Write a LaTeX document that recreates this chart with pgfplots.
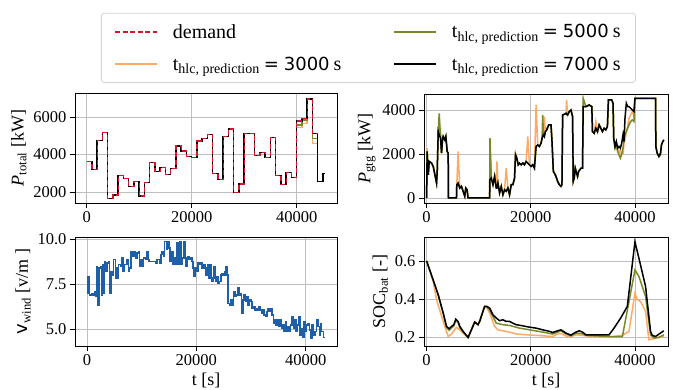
\documentclass[border=0pt]{standalone}
\usepackage{fontspec}
\setmainfont{Liberation Serif}
\newfontfamily\dejavu{DejaVu Sans}
\usepackage{pgfplots}
\usepackage{pgfplotstable}
\pgfplotsset{compat=1.18}

\definecolor{cdem}{RGB}{214,20,40}
\definecolor{cthree}{RGB}{253,170,100}
\definecolor{cfive}{RGB}{118,138,40}
\definecolor{cwind}{RGB}{30,95,170}
\definecolor{cgrid}{RGB}{190,190,190}
\definecolor{cframe}{RGB}{210,210,210}

\pgfplotstableread{
t d
0 3618
1000 3209
2000 4738
3000 5165
4000 1662
5000 1840
6000 2871
7000 2730
8000 2285
9000 2550
10000 1787
11000 2500
12000 3565
13000 3085
14000 3298
15000 2942
16000 3262
17000 4454
18000 4187
19000 3885
20000 3831
21000 4720
22000 4862
23000 5076
24000 2996
25000 2676
26000 4951
27000 5360
28000 1982
29000 2427
30000 5129
31000 5129
32000 3938
33000 4098
34000 3831
35000 4898
36000 2871
37000 2409
38000 3031
39000 2765
40000 5787
41000 5929
42000 6960
43000 5129
44000 5129
}\demand

\pgfplotstableread{
t o g b
0 3618 3618 3618
1000 3209 3209 3209
2000 4738 4738 4738
3000 5165 5165 5165
4000 1662 1662 1662
5000 1840 1840 1840
6000 2871 2871 2871
7000 2730 2730 2730
8000 2285 2285 2285
9000 2550 2550 2550
10000 1787 1787 1787
11000 2500 2500 2500
12000 3565 3565 3565
13000 3085 3085 3085
14000 3298 3298 3298
15000 2942 2942 2942
16000 3262 3262 3262
17000 4454 4454 4454
18000 4187 4187 4187
19000 3885 3885 3885
20000 3831 3831 3831
21000 4720 4720 4720
22000 4862 4862 4862
23000 5076 5076 5076
24000 2996 2996 2996
25000 2676 2676 2676
26000 4951 4951 4951
27000 5360 5360 5360
28000 1982 1982 1982
29000 2427 2427 2427
30000 5129 5129 5129
31000 5129 5129 5129
32000 3938 3938 3938
33000 4098 4098 4098
34000 3831 3831 3831
35000 4898 4898 4898
36000 2871 2871 2871
37000 2409 2409 2409
38000 3031 3031 3031
39000 2765 2765 2765
40000 5431 5574 5787
41000 5663 5840 5929
42000 6960 6960 6960
43000 4596 4862 5129
44000 2551 2551 2551
45000 2996 2996 2996
45400 2996 2996 2996
}\ptotal

\pgfplotstableread{
t o g b
0 0 0 0
100 2265 2114 2114
319 1057 1057 1057
510 1661 1661 1661
956 1586 1586 1586
1274 1435 1435 1435
1593 1057 1057 1057
1911 680 680 680
2038 1208 1208 1208
2230 3020 3020 3020
2421 2869 3850 2869
2675 3096 2718 2718
2867 2039 2039 2039
3058 2643 2643 2643
3185 2794 2794 2794
3504 2643 2643 2643
3695 2794 2794 2794
3949 2114 2114 2114
4141 2039 2039 2039
4204 0 0 0
5733 0 0 0
5797 604 604 604
6052 2114 680 680
6370 453 453 453
6689 529 529 529
7007 302 302 302
7326 76 76 76
7517 453 453 453
7771 378 378 378
7963 0 0 0
12103 0 0 0
12167 2416 2718 830
12422 906 906 906
12740 604 604 604
13059 982 982 982
13377 453 453 453
13504 1661 453 453
13696 680 680 680
14014 227 227 227
14333 529 529 529
14651 151 151 151
14970 378 378 378
15288 1359 302 302
15607 453 453 453
15925 151 151 151
16244 604 604 604
16562 604 604 604
16881 906 906 906
17072 2039 1963 1963
17326 1812 1812 1812
17581 1510 1510 1510
17836 1586 1586 1586
18155 1510 1510 1510
18473 1586 1586 1586
18792 1510 1510 1510
19110 1661 1661 1661
19429 2794 1586 1586
19747 1510 1510 1510
20066 1435 1435 1435
20384 1510 1510 1510
20703 1359 1359 1359
21021 4228 2341 2341
21340 2416 2416 2416
21658 2341 2341 2341
21977 2492 2492 2492
22168 2718 2718 2718
22295 2800 3775 2800
22422 2869 2869 2869
22614 3700 2794 2794
22805 3020 3020 3020
23059 3096 3096 3096
23442 3322 3322 3322
23888 3322 3322 3322
24079 2567 2567 2567
24333 1208 1208 1208
24525 1133 1133 1133
24843 982 982 982
25162 755 755 755
25480 604 604 604
25799 529 529 529
25990 604 604 604
26117 3775 3775 3775
26436 3805 3805 3805
26754 3851 3851 3851
26881 4455 3800 3800
27073 3775 3775 3775
27391 3926 3926 3926
27710 4002 4002 4002
28028 3700 3700 3700
28155 755 755 755
28347 906 906 906
28538 1359 1359 1359
28792 1133 1133 1133
28984 982 982 982
29175 1208 1208 1208
29429 1284 1284 1284
29684 1359 1359 1359
29939 1359 1359 1359
30066 4153 4530 4153
30576 4153 4153 4153
31213 4228 4228 4228
31722 4153 4153 4153
31850 3020 3020 3020
32169 2945 2945 2945
32487 3473 3171 3171
32806 3020 3020 3020
33124 3322 3322 3322
33443 3171 3171 3171
33761 3020 3020 3020
34080 3171 3171 3171
34398 3096 3096 3096
34717 3247 3247 3247
34908 4455 4455 4455
35545 4455 4455 4455
35799 4304 4304 4304
35927 2718 2718 2718
36181 2340 2265 2341
36436 2265 2416 2567
36691 2190 2114 2265
36946 2039 1963 2341
37201 2190 1812 2265
37456 1950 2000 2492
37710 2000 2265 2869
37902 2492 2718 2567
38093 2650 2869 3624
38347 3000 3020 4304
38602 3250 3171 4153
38857 3624 3322 4153
39176 3775 3473 4077
39494 3926 3549 4002
39813 3700 3473 3926
40004 4530 4530 4530
43953 4530 4530 4530
44017 2341 2341 2341
44272 2039 2039 2039
44590 1888 1888 1888
44909 2039 1950 2039
45100 2416 2416 2416
45354 2567 2567 2567
45546 2643 2643 2643
}\pgtg

\pgfplotstableread{
t v
0 7.92
122 6.99
305 7.92
487 6.90
792 6.99
1096 6.86
1340 7.08
1523 6.80
1705 8.48
1949 6.34
2192 8.38
2436 8.48
2619 6.90
2801 8.57
3045 6.99
3228 8.72
3410 8.20
3654 8.66
3959 8.72
4141 6.99
4385 8.20
4568 8.01
4872 8.85
5177 7.83
5359 8.38
5603 7.83
5786 8.57
6090 8.48
6273 8.94
6577 8.20
6821 8.57
7308 8.85
7613 8.20
7795 8.38
8039 9.31
8404 9.03
8648 9.31
8891 8.94
9135 9.22
9440 9.31
9622 8.48
9866 8.85
10109 8.48
10353 8.94
10658 8.85
10840 9.31
11145 8.85
11327 8.76
11876 8.76
12485 8.66
12789 8.85
13276 8.66
13520 9.13
13703 9.31
14007 9.03
14190 9.87
14494 9.41
14738 9.87
14981 9.50
15225 8.76
15530 9.31
15712 8.57
15956 8.94
16199 8.57
16443 9.78
16748 8.57
16930 9.87
17174 8.57
17417 8.94
17661 9.87
17905 8.94
18148 8.48
18392 9.03
18635 8.85
18879 8.94
19184 8.76
19366 8.38
19610 7.92
19853 8.38
20097 8.20
20341 8.66
20584 8.57
20828 8.66
21071 8.38
21315 8.57
21559 8.38
21802 8.01
22046 8.57
22289 7.83
22533 8.57
22777 7.64
23020 7.83
23264 8.48
23507 7.64
23751 7.92
23995 7.55
24238 7.64
24482 8.01
24725 8.10
24969 8.01
25274 8.20
25456 8.48
25639 8.01
25822 6.43
26065 6.34
26309 6.62
26552 6.34
26796 7.08
27040 6.80
27283 6.90
27527 7.27
27770 6.90
28014 6.99
28258 5.87
28501 6.62
28745 6.90
28988 6.52
29232 6.80
29476 6.34
29719 6.62
29963 6.52
30206 6.15
30450 6.25
30694 6.06
30937 6.15
31181 6.06
31424 6.25
31668 6.06
31912 5.87
32155 6.06
32399 5.78
32642 5.69
32886 5.97
33130 6.15
33373 5.97
33617 6.15
33860 5.78
34104 5.32
34348 5.50
34591 5.22
34835 5.50
35078 5.13
35322 5.50
35566 5.04
35809 5.22
36053 4.85
36296 5.41
36540 4.85
36784 5.13
37027 4.85
37271 5.22
37514 5.69
37758 5.04
38002 5.50
38245 4.85
38489 5.22
38732 5.69
38976 4.67
39220 5.04
39463 4.57
39707 5.41
39950 4.85
40194 5.22
40438 5.32
40681 4.94
40925 4.48
41168 5.22
41412 4.67
41717 4.85
42021 5.50
42265 5.13
42508 4.67
42752 5.32
42935 4.85
43239 4.52
43544 4.52
}\wind

\pgfplotstableread{
t v
0 0.600
1911 0.448
2230 0.422
3185 0.326
3822 0.256
4332 0.244
4778 0.256
5223 0.265
5606 0.294
6052 0.282
6370 0.256
7007 0.230
7963 0.198
8600 0.238
9237 0.279
9874 0.265
10192 0.282
10702 0.326
11148 0.361
11593 0.361
12103 0.352
12740 0.317
13377 0.300
14014 0.286
14651 0.291
15288 0.282
15925 0.282
16562 0.273
17199 0.265
18473 0.259
19747 0.252
21021 0.247
22295 0.238
23569 0.230
24206 0.224
25162 0.233
25799 0.238
26754 0.221
27710 0.210
28665 0.226
29302 0.233
29939 0.226
30576 0.212
35035 0.212
35990 0.247
37264 0.300
38538 0.361
40004 0.701
40768 0.614
42042 0.466
43000 0.230
43316 0.209
43953 0.203
44909 0.221
45546 0.233
}\socb

\pgfplotstableread{
t v
0 0.600
1911 0.448
2230 0.422
3185 0.326
3822 0.250
4332 0.236
4778 0.248
5223 0.258
5606 0.288
6052 0.276
6370 0.250
7007 0.226
7963 0.198
8600 0.238
9237 0.279
9874 0.265
10192 0.282
10702 0.326
11148 0.361
11593 0.358
12103 0.343
13377 0.273
14651 0.265
15925 0.261
17836 0.247
19747 0.238
22295 0.226
24206 0.216
25162 0.226
25799 0.233
26754 0.216
27710 0.207
28665 0.221
29939 0.217
30576 0.209
35035 0.203
37583 0.202
40004 0.553
40768 0.518
42042 0.413
43000 0.212
43634 0.195
44590 0.198
45546 0.212
}\socg

\pgfplotstableread{
t v
0 0.600
1274 0.492
1911 0.396
3185 0.282
4141 0.203
4778 0.216
5733 0.251
6370 0.238
7007 0.221
7963 0.198
9237 0.279
9874 0.265
10702 0.326
11148 0.361
11593 0.352
12103 0.326
13059 0.256
13696 0.238
14651 0.233
15925 0.226
17199 0.216
19110 0.212
21021 0.209
24206 0.203
25162 0.216
25799 0.219
26754 0.205
27710 0.202
28665 0.212
29939 0.209
31850 0.202
35035 0.200
37583 0.209
38857 0.230
40004 0.431
40450 0.396
41087 0.387
42042 0.335
42679 0.186
43634 0.191
44590 0.198
45546 0.203
}\soco

\pgfplotsset{
  panel/.style={
    scale only axis,
    anchor=south west,
    axis line style={black, line width=0.8pt},
    grid=major,
    grid style={cgrid, line width=0.8pt},
    tick align=outside,
    xtick pos=bottom, ytick pos=left,
    major tick length=5pt,
    tick style={black, line width=0.8pt},
    tick label style={font=\fontsize{16.5}{16.5}\selectfont},
    label style={font=\fontsize{18}{18}\selectfont},
    /pgf/number format/assume math mode=true,
    /pgf/number format/1000 sep={},
    scaled ticks=false,
    xtick={0,20000,40000},
  }
}

\newcommand{\tentry}[1]{t\textsubscript{hlc, prediction}\kern4pt{\dejavu\fontsize{18}{18}\selectfont =\kern5pt#1}\kern4pt s}

\begin{document}
\begin{tikzpicture}
\useasboundingbox (0pt,0pt) rectangle (673pt,390pt);

% top left
\begin{axis}[panel,
  at={(75pt,187pt)}, width=262pt, height=110pt,
  xmin=-2230, xmax=47680, ymin=1413, ymax=7280,
  ytick={2000,4000,6000},
  ylabel={\textit{P}\textsubscript{total} [kW]},
  legend columns=2,
  legend cell align=left,
  legend image code/.code={\draw[line width=1.5pt,#1] (0pt,0pt) -- (42pt,0pt);},
  legend style={at={(1.1202,1.41)}, anchor=center,
    font=\fontsize{20}{24}\selectfont,
    draw=cframe, rounded corners=3pt, line width=0.8pt,
    inner xsep=13pt, inner ysep=9pt, row sep=13pt,
    /tikz/every even column/.append style={column sep=50pt},
    /tikz/every odd column/.append style={column sep=13pt}},
]
\addlegendimage{draw=cdem, line width=1.3pt, dash pattern=on 5pt off 2.5pt, sharp corners}
\addlegendentry{demand}
\addlegendimage{draw=cfive, line width=1.5pt, solid, sharp corners}
\addlegendentry{\tentry{5000}}
\addlegendimage{draw=cthree, line width=1.5pt, solid, sharp corners}
\addlegendentry{\tentry{3000}}
\addlegendimage{draw=black, line width=1.5pt, solid, sharp corners}
\addlegendentry{\tentry{7000}}
\addplot[forget plot, const plot, cthree, line width=1.5pt] table[x=t, y=o] {\ptotal};
\addplot[forget plot, const plot, cfive, line width=1.5pt] table[x=t, y=g] {\ptotal};
\addplot[forget plot, const plot, black, line width=1.5pt] table[x=t, y=b] {\ptotal};
\addplot[forget plot, const plot, cdem, line width=1.3pt, dash pattern=on 5pt off 2.5pt] table[x=t, y=d] {\demand};
\end{axis}

% top right
\begin{axis}[panel,
  at={(424pt,187pt)}, width=244pt, height=109pt,
  xmin=-500, xmax=46350, ymin=-227, ymax=4727,
  ytick={0,2000,4000},
  ylabel={\textit{P}\textsubscript{gtg} [kW]},
]
\addplot[cthree, line width=1.5pt] table[x=t, y=o] {\pgtg};
\addplot[cfive, line width=1.5pt] table[x=t, y=g] {\pgtg};
\addplot[black, line width=1.5pt] table[x=t, y=b] {\pgtg};
\end{axis}

% bottom left
\begin{axis}[panel,
  at={(75pt,44pt)}, width=262pt, height=109pt,
  xmin=-2180, xmax=45720, ymin=4.06, ymax=10.11,
  ytick={5,7.5,10},
  yticklabel style={/pgf/number format/.cd, fixed, fixed zerofill, precision=1},
  ylabel={{\dejavu v}\textsubscript{wind} [v/m ]},
  xlabel={t [s]},
]
\addplot[const plot, cwind, line width=1.4pt] table[x=t, y=v] {\wind};
\end{axis}

% bottom right
\begin{axis}[panel,
  at={(424pt,44pt)}, width=244pt, height=109pt,
  xmin=-500, xmax=46350, ymin=0.153, ymax=0.726,
  ytick={0.2,0.4,0.6},
  yticklabel style={/pgf/number format/.cd, fixed, fixed zerofill, precision=1},
  ylabel={SOC\textsubscript{bat} [-]},
  xlabel={t [s]},
]
\addplot[cthree, line width=1.5pt] table[x=t, y=v] {\soco};
\addplot[cfive, line width=1.5pt] table[x=t, y=v] {\socg};
\addplot[black, line width=1.5pt] table[x=t, y=v] {\socb};
\end{axis}
\end{tikzpicture}
\end{document}
